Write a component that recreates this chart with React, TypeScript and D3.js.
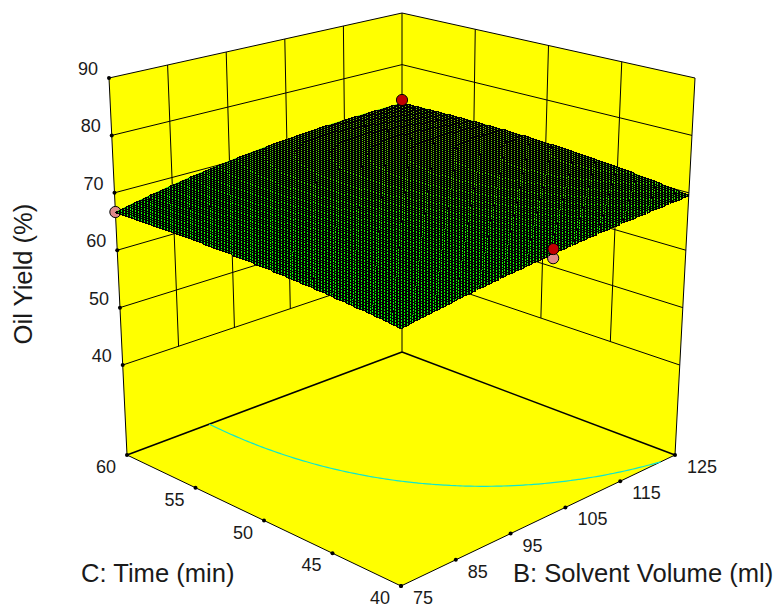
import React from 'react';
import * as d3 from 'd3';

// axes
const bTicks = [75, 85, 95, 105, 115, 125];
const cTicks = [40, 45, 50, 55, 60];
const zTicks = [40, 50, 60, 70, 80, 90];
const zFloor = 24.33;

// yield at the 3x3 design levels, the model fills the mesh
const bLevels = [75, 100, 125];
const cLevels = [40, 50, 60];
const yieldAtC40 = [65.16, 68.04, 69.6];
const yieldAtC50 = [66.74, 70.2, 72.18];
const yieldAtC60 = [66.66, 70.89, 72.56];
const contourLevel = 69.5;

// design points
const pinkPoints = [[75, 60, 66.66], [101.5, 40, 67.3]];
const redPoints = [[125, 60, 73.15], [101.5, 40, 68.83]];

// box corners in pixels: [front, right, left, back]
const floorCorners = [[401, 586], [675, 455], [127, 455], [402, 352]];
const topCorners = [[401, 171], [695, 78], [109, 78], [402, 13]];

const meshSteps = 100;
const fillSteps = 20;

const u = d3.scaleLinear().domain([75, 125]).range([0, 1]);
const v = d3.scaleLinear().domain([40, 60]).range([0, 1]);
const w = d3.scaleLinear().domain([zFloor, 90]).range([0, 1]);

function bilinear(c: number[][], i: number, s: number, t: number) {
  return c[0][i] * (1 - s) * (1 - t) + c[1][i] * s * (1 - t) + c[2][i] * (1 - s) * t + c[3][i] * s * t;
}

function project(b: number, c: number, z: number): [number, number] {
  const s = u(b), t = v(c), h = w(z);
  return [
    bilinear(floorCorners, 0, s, t) * (1 - h) + bilinear(topCorners, 0, s, t) * h,
    bilinear(floorCorners, 1, s, t) * (1 - h) + bilinear(topCorners, 1, s, t) * h,
  ];
}

function quad(levels: number[], vals: number[], x: number) {
  const [a, m, e] = levels;
  return vals[0] * ((x - m) * (x - e)) / ((a - m) * (a - e))
    + vals[1] * ((x - a) * (x - e)) / ((m - a) * (m - e))
    + vals[2] * ((x - a) * (x - m)) / ((e - a) * (e - m));
}

function yieldAt(b: number, c: number) {
  const rows = [yieldAtC40, yieldAtC50, yieldAtC60].map(r => quad(bLevels, r, b));
  return quad(cLevels, rows, c);
}

const stepsOf = (n: number, from: number, span: number) => d3.range(n + 1).map(i => from + (span * i) / n);
const bGrid = stepsOf(meshSteps, 75, 50);
const cGrid = stepsOf(meshSteps, 40, 20);
const bFill = stepsOf(fillSteps, 75, 50);
const cFill = stepsOf(fillSteps, 40, 20);

const line = d3.line();
const fillColor = d3.scaleLinear<string>().domain([65, 69, 73]).range(['#00ff00', '#20f000', '#80c000']);

// the mesh sits on whole pixels, the way the original renderer drew it
function snapped(b: number, c: number): [number, number] {
  const [x, y] = project(b, c, yieldAt(b, c));
  return [Math.round(x) + 0.5, Math.round(y) + 0.5];
}

function meshOutline() {
  const pts = [
    ...bGrid.map(b => project(b, 40, yieldAt(b, 40))),
    ...cGrid.map(c => project(125, c, yieldAt(125, c))),
    ...bGrid.slice().reverse().map(b => project(b, 60, yieldAt(b, 60))),
    ...cGrid.slice().reverse().map(c => project(75, c, yieldAt(75, c))),
  ];
  return line(pts) + 'Z';
}

function meshCells() {
  const cells: { d: string; fill: string }[] = [];
  for (let j = 0; j < fillSteps; j++) {
    for (let i = 0; i < fillSteps; i++) {
      const b0 = bFill[i], b1 = bFill[i + 1], c0 = cFill[j], c1 = cFill[j + 1];
      const pts = [[b0, c0], [b1, c0], [b1, c1], [b0, c1]].map(p => project(p[0], p[1], yieldAt(p[0], p[1])));
      cells.push({ d: line(pts) + 'Z', fill: fillColor(yieldAt((b0 + b1) / 2, (c0 + c1) / 2)) });
    }
  }
  return cells;
}

function meshLines() {
  let d = '';
  bGrid.forEach(b => { d += line(cGrid.map(c => snapped(b, c))); });
  cGrid.forEach(c => { d += line(bGrid.map(b => snapped(b, c))); });
  return d;
}

// contour on the floor, cut away where d3 closes it along the grid border
function floorContour() {
  const values: number[] = [];
  cGrid.forEach(c => bGrid.forEach(b => values.push(yieldAt(b, c))));
  const n = meshSteps + 1;
  const rings = d3.contours().size([n, n]).thresholds([contourLevel])(values)[0].coordinates;
  let d = '';
  rings.forEach(poly => poly.forEach(ring => {
    let pen = false;
    ring.forEach(([x, y]) => {
      if (x <= 0 || y <= 0 || x >= n || y >= n) { pen = false; return; }
      const p = project(75 + (50 * (x - 0.5)) / meshSteps, 40 + (20 * (y - 0.5)) / meshSteps, zFloor);
      d += (pen ? 'L' : 'M') + p[0] + ',' + p[1];
      pen = true;
    });
  }));
  return d;
}

function Wall({ a, b }: { a: [number, number]; b: [number, number] }) {
  return (
    <path
      d={line([project(a[0], a[1], zFloor), project(b[0], b[1], zFloor), project(b[0], b[1], 90), project(a[0], a[1], 90)]) + 'Z'}
      fill="#ffff00"
    />
  );
}

function Seg({ p, q, sw = 1 }: { p: number[]; q: number[]; sw?: number }) {
  const a = project(p[0], p[1], p[2]), b = project(q[0], q[1], q[2]);
  return <line x1={a[0]} y1={a[1]} x2={b[0]} y2={b[1]} stroke="#000" strokeWidth={sw} />;
}

function Dot({ p, fill }: { p: number[]; fill: string }) {
  const [x, y] = project(p[0], p[1], p[2]);
  return <circle cx={x} cy={y} r={5.6} fill={fill} stroke="#000" strokeWidth={1} />;
}

function Tick({ at }: { at: [number, number] }) {
  return <circle cx={at[0]} cy={at[1]} r={2} fill="#000" />;
}

export default function App() {
  const labelFont = { fontFamily: '"Liberation Sans", Arial, sans-serif', fill: '#1a1a1a' };
  return (
    <svg width={778} height={610} style={{ position: 'absolute', left: 0, top: 0, background: '#fff' }}>
      <Wall a={[75, 60]} b={[125, 60]} />
      <Wall a={[125, 40]} b={[125, 60]} />
      <path
        d={line([project(75, 40, zFloor), project(125, 40, zFloor), project(125, 60, zFloor), project(75, 60, zFloor)]) + 'Z'}
        fill="#ffff00"
      />

      {/* wall grids */}
      {zTicks.map(z => (
        <g key={z}>
          <Seg p={[75, 60, z]} q={[125, 60, z]} />
          <Seg p={[125, 60, z]} q={[125, 40, z]} />
        </g>
      ))}
      {bTicks.slice(1, -1).map(b => <Seg key={b} p={[b, 60, 40]} q={[b, 60, 90]} />)}
      {cTicks.slice(1, -1).map(c => <Seg key={c} p={[125, c, 40]} q={[125, c, 90]} />)}

      {/* box edges */}
      <Seg p={[125, 60, zFloor]} q={[125, 60, 90]} />
      <Seg p={[75, 60, zFloor]} q={[75, 60, 90]} />
      <Seg p={[125, 40, zFloor]} q={[125, 40, 90]} />
      <Seg p={[75, 60, zFloor]} q={[125, 60, zFloor]} sw={1.6} />
      <Seg p={[125, 40, zFloor]} q={[125, 60, zFloor]} sw={1.6} />
      <Seg p={[75, 40, zFloor]} q={[75, 60, zFloor]} />
      <Seg p={[75, 40, zFloor]} q={[125, 40, zFloor]} />

      <path d={floorContour()} fill="none" stroke="#10e6cc" strokeWidth={1.2} />

      {/* ticks and labels */}
      {zTicks.map(z => {
        const at = project(75, 60, z);
        return (
          <g key={z}>
            <Tick at={at} />
            <text x={at[0] - 11} y={at[1] - 3} textAnchor="end" fontSize={18} {...labelFont}>{z}</text>
          </g>
        );
      })}
      {cTicks.map(c => {
        const at = project(75, c, zFloor);
        return (
          <g key={c}>
            <Tick at={at} />
            <text x={at[0] - 11} y={at[1] + 18} textAnchor="end" fontSize={18} {...labelFont}>{c}</text>
          </g>
        );
      })}
      {bTicks.map(b => {
        const at = project(b, 40, zFloor);
        return (
          <g key={b}>
            <Tick at={at} />
            <text x={at[0] + 12} y={at[1] + 18} textAnchor="start" fontSize={18} {...labelFont}>{b}</text>
          </g>
        );
      })}

      <text transform="translate(32,274) rotate(-90)" textAnchor="middle" fontSize={25.6} {...labelFont}>Oil Yield (%)</text>
      <text x={81} y={582} fontSize={25.6} {...labelFont}>C: Time (min)</text>
      <text x={513} y={582} fontSize={25.6} {...labelFont}>B: Solvent Volume (ml)</text>

      {pinkPoints.map((p, i) => <Dot key={i} p={p} fill="#e08a8a" />)}

      {/* response surface */}
      <path d={meshOutline()} fill="#00ff00" />
      <g>
        {meshCells().map((c, i) => <path key={i} d={c.d} fill={c.fill} />)}
      </g>
      <path d={meshLines()} fill="none" stroke="#000" strokeWidth={1.3} shapeRendering="crispEdges" />

      {redPoints.map((p, i) => <Dot key={i} p={p} fill="#c00000" />)}
    </svg>
  );
}
